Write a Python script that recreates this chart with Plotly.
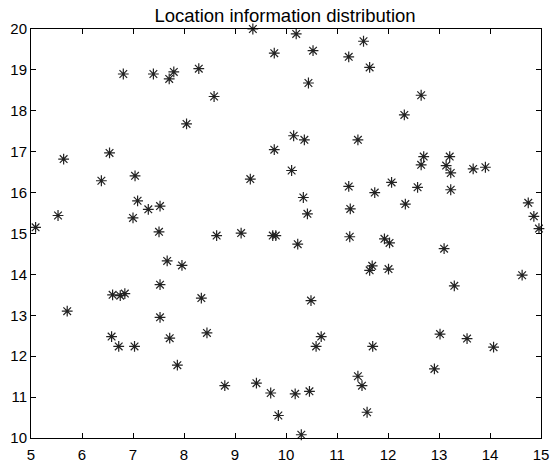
import plotly.graph_objects as go

x_vals = [9.35, 10.20, 9.77, 10.53, 11.52, 11.23, 11.64, 6.81, 7.40, 7.71, 7.80, 8.29,
          8.59, 10.44, 8.05, 12.65, 12.32, 10.15, 10.36, 11.41, 9.77, 5.64, 6.54, 6.38,
          7.04, 7.09, 7.00, 7.30, 7.53, 7.51, 5.53, 5.09, 9.30, 10.11, 10.34, 10.42,
          11.23, 11.26, 11.74, 12.07, 12.34, 12.58, 12.70, 12.65, 13.21, 13.14, 13.23,
          13.23, 13.67, 13.91, 14.75, 14.86, 14.96, 8.64, 9.12, 9.74, 9.80, 10.23,
          11.25, 11.93, 12.03, 13.10, 7.67, 7.96, 7.53, 6.60, 6.75, 6.84, 8.34, 10.49,
          11.69, 11.64, 12.01, 14.63, 13.30, 5.71, 6.58, 6.72, 7.03, 7.53, 7.72, 7.87,
          8.45, 10.69, 10.59, 11.70, 13.02, 13.55, 14.07, 12.91, 8.80, 9.42, 9.70,
          10.18, 10.46, 11.41, 11.49, 9.85, 10.30, 11.59]
y_vals = [20.00, 19.88, 19.41, 19.47, 19.70, 19.32, 19.06, 18.90, 18.90, 18.78, 18.95, 19.03,
          18.35, 18.68, 17.68, 18.38, 17.90, 17.39, 17.29, 17.29, 17.05, 16.82, 16.97, 16.29,
          16.41, 15.80, 15.38, 15.59, 15.67, 15.04, 15.44, 15.15, 16.33, 16.54, 15.88, 15.48,
          16.15, 15.60, 16.00, 16.25, 15.72, 16.13, 16.88, 16.68, 16.88, 16.66, 16.48,
          16.07, 16.58, 16.62, 15.75, 15.42, 15.12, 14.95, 15.01, 14.95, 14.95, 14.74,
          14.92, 14.87, 14.77, 14.63, 14.33, 14.22, 13.75, 13.50, 13.48, 13.53, 13.42, 13.36,
          14.21, 14.10, 14.13, 13.98, 13.72, 13.10, 12.48, 12.24, 12.24, 12.95, 12.44, 11.78,
          12.57, 12.48, 12.24, 12.24, 12.54, 12.43, 12.22, 11.69, 11.28, 11.34, 11.10,
          11.08, 11.14, 11.51, 11.28, 10.55, 10.08, 10.63]

x_ticks = [5, 6, 7, 8, 9, 10, 11, 12, 13, 14, 15]
y_ticks = [10, 11, 12, 13, 14, 15, 16, 17, 18, 19, 20]
title = "Location information distribution"

fig = go.Figure()
fig.add_trace(go.Scatter(
    x=x_vals, y=y_vals, mode="markers",
    marker=dict(symbol="asterisk-open", size=9, color="#222222",
                line=dict(width=1.2, color="#222222")),
    cliponaxis=False, showlegend=False))

font_family = "Liberation Sans, Arial"
axis_common = dict(showgrid=False, zeroline=False, showline=True, linecolor="black",
                   linewidth=1, mirror="ticks", ticks="inside", ticklen=5,
                   tickcolor="black", automargin=False,
                   tickfont=dict(family=font_family, size=15, color="black"))

fig.update_layout(
    width=551, height=464,
    margin=dict(l=31, r=10, t=29, b=26),
    paper_bgcolor="white", plot_bgcolor="white",
    title=dict(text=title, x=285 / 551, xanchor="center", y=1 - 16 / 464, yanchor="middle",
               font=dict(family=font_family, size=18.5, color="black")),
    xaxis=dict(range=[5, 15], tickvals=x_ticks, ticktext=[str(t) for t in x_ticks],
               ticklabelstandoff=3, **axis_common),
    yaxis=dict(range=[10, 20], tickvals=y_ticks, ticktext=[str(t) for t in y_ticks],
               **axis_common),
)

fig.write_html("out.html")
